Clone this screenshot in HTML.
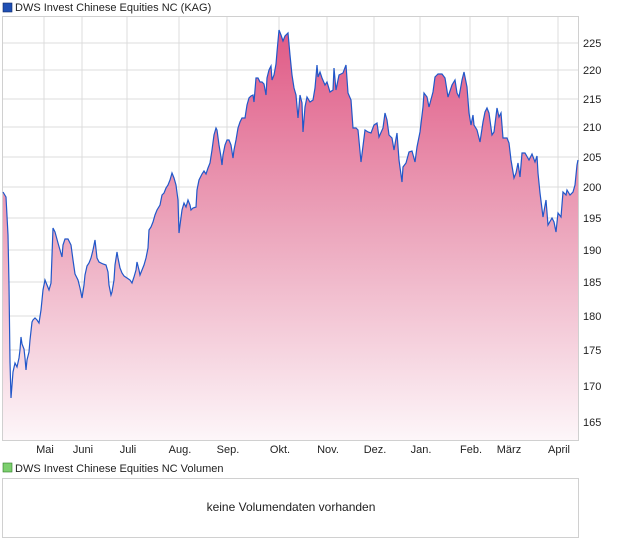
<!DOCTYPE html>
<html><head><meta charset="utf-8"><style>
body{margin:0;background:#fff;width:620px;height:546px;overflow:hidden;font-family:"Liberation Sans",sans-serif}
svg{position:absolute;left:0;top:0}
</style></head><body>
<svg width="620" height="546" viewBox="0 0 620 546" font-family="Liberation Sans, sans-serif">
<defs><linearGradient id="g" gradientUnits="userSpaceOnUse" x1="0" y1="30" x2="0" y2="440">
<stop offset="0" stop-color="#e05a86"/><stop offset="0.45" stop-color="#eba0b8"/><stop offset="1" stop-color="#fdf6f9"/></linearGradient>
<path id="p" d="M3,192 L6,197 8,235 9,285 10,362 11,398 13,372 15,363 17,367 19,358 20,350 21,337 22,344 24,349 25,358 26,370 27,360 29,352 30,340 32,322 33,320 35,318 37,320 39,323 41,310 43,290 45,280 47,285 49,290 51,283 53,228 55,232 58,243 60,250 62,257 63,245 65,239 68,239 71,245 73,260 75,274 78,280 80,288 82,298 84,285 85,275 87,266 89,263 91,258 93,250 95,240 97,258 99,262 103,264 106,265 108,272 109,285 111,295 112,292 114,280 115,265 117,252 118,258 120,268 122,273 124,276 127,278 130,280 132,283 134,277 136,270 137,262 139,270 140,275 142,270 144,265 146,258 148,248 149,230 151,227 153,222 155,215 157,210 160,205 162,195 164,193 166,188 168,185 170,180 172,173 174,178 176,185 178,200 179,233 180,225 182,210 184,203 186,207 188,200 190,205 191,210 193,208 196,207 197,190 199,180 202,174 204,171 206,174 208,168 210,163 212,150 214,135 216,128 217,130 219,145 221,157 222,165 223,155 225,145 227,140 229,140 231,145 233,158 234,150 236,140 238,128 240,122 242,118 245,118 247,105 249,98 251,96 253,95 254,102 255,90 256,78 258,78 260,82 262,82 264,84 266,95 267,78 269,70 271,66 272,80 274,75 276,64 277,52 279,30 281,35 283,41 285,36 288,33 290,55 292,75 294,88 296,95 298,118 300,95 302,103 303,132 305,107 307,97 310,102 313,100 315,88 317,65 318,77 320,72 322,78 325,85 327,82 330,92 333,90 334,68 336,90 339,75 343,73 346,65 348,93 351,100 353,128 356,128 358,130 361,162 365,130 368,132 371,133 374,125 377,123 379,137 383,128 385,113 387,120 389,135 392,138 394,150 397,133 399,160 402,182 403,167 406,163 409,152 412,151 415,162 417,147 420,132 423,107 424,93 427,97 429,107 433,92 435,77 438,74 442,74 445,78 448,97 452,85 455,80 457,93 459,97 462,80 464,72 467,87 469,113 471,125 473,115 474,125 477,130 480,142 483,122 485,112 487,108 489,113 492,135 494,132 497,108 499,117 501,113 503,138 507,138 509,143 511,160 514,178 516,173 518,163 520,177 522,153 525,153 529,160 532,154 535,162 537,156 538,173 540,193 543,217 546,200 548,225 552,218 554,222 556,232 558,213 561,217 563,192 566,195 567,190 570,195 573,192 575,185 577,165 578,160"/>
</defs>
<rect x="3" y="3" width="9" height="9" fill="#1f4fb4" stroke="#112a66" stroke-width="0.6"/>
<text x="15" y="11" font-size="11" fill="#222">DWS Invest Chinese Equities NC (KAG)</text>
<g stroke="#dcdcdc" stroke-width="1">
<line x1="2" y1="43" x2="578" y2="43"/><line x1="2" y1="70" x2="578" y2="70"/><line x1="2" y1="99" x2="578" y2="99"/><line x1="2" y1="127" x2="578" y2="127"/><line x1="2" y1="157" x2="578" y2="157"/><line x1="2" y1="187" x2="578" y2="187"/><line x1="2" y1="218" x2="578" y2="218"/><line x1="2" y1="250" x2="578" y2="250"/><line x1="2" y1="282" x2="578" y2="282"/><line x1="2" y1="316" x2="578" y2="316"/><line x1="2" y1="350" x2="578" y2="350"/><line x1="2" y1="386" x2="578" y2="386"/><line x1="2" y1="422" x2="578" y2="422"/>
<line x1="44" y1="16" x2="44" y2="440"/><line x1="82" y1="16" x2="82" y2="440"/><line x1="127" y1="16" x2="127" y2="440"/><line x1="179" y1="16" x2="179" y2="440"/><line x1="227" y1="16" x2="227" y2="440"/><line x1="279" y1="16" x2="279" y2="440"/><line x1="327" y1="16" x2="327" y2="440"/><line x1="374" y1="16" x2="374" y2="440"/><line x1="420" y1="16" x2="420" y2="440"/><line x1="470" y1="16" x2="470" y2="440"/><line x1="508" y1="16" x2="508" y2="440"/><line x1="558" y1="16" x2="558" y2="440"/>
</g>
<path d="M3,192 L6,197 8,235 9,285 10,362 11,398 13,372 15,363 17,367 19,358 20,350 21,337 22,344 24,349 25,358 26,370 27,360 29,352 30,340 32,322 33,320 35,318 37,320 39,323 41,310 43,290 45,280 47,285 49,290 51,283 53,228 55,232 58,243 60,250 62,257 63,245 65,239 68,239 71,245 73,260 75,274 78,280 80,288 82,298 84,285 85,275 87,266 89,263 91,258 93,250 95,240 97,258 99,262 103,264 106,265 108,272 109,285 111,295 112,292 114,280 115,265 117,252 118,258 120,268 122,273 124,276 127,278 130,280 132,283 134,277 136,270 137,262 139,270 140,275 142,270 144,265 146,258 148,248 149,230 151,227 153,222 155,215 157,210 160,205 162,195 164,193 166,188 168,185 170,180 172,173 174,178 176,185 178,200 179,233 180,225 182,210 184,203 186,207 188,200 190,205 191,210 193,208 196,207 197,190 199,180 202,174 204,171 206,174 208,168 210,163 212,150 214,135 216,128 217,130 219,145 221,157 222,165 223,155 225,145 227,140 229,140 231,145 233,158 234,150 236,140 238,128 240,122 242,118 245,118 247,105 249,98 251,96 253,95 254,102 255,90 256,78 258,78 260,82 262,82 264,84 266,95 267,78 269,70 271,66 272,80 274,75 276,64 277,52 279,30 281,35 283,41 285,36 288,33 290,55 292,75 294,88 296,95 298,118 300,95 302,103 303,132 305,107 307,97 310,102 313,100 315,88 317,65 318,77 320,72 322,78 325,85 327,82 330,92 333,90 334,68 336,90 339,75 343,73 346,65 348,93 351,100 353,128 356,128 358,130 361,162 365,130 368,132 371,133 374,125 377,123 379,137 383,128 385,113 387,120 389,135 392,138 394,150 397,133 399,160 402,182 403,167 406,163 409,152 412,151 415,162 417,147 420,132 423,107 424,93 427,97 429,107 433,92 435,77 438,74 442,74 445,78 448,97 452,85 455,80 457,93 459,97 462,80 464,72 467,87 469,113 471,125 473,115 474,125 477,130 480,142 483,122 485,112 487,108 489,113 492,135 494,132 497,108 499,117 501,113 503,138 507,138 509,143 511,160 514,178 516,173 518,163 520,177 522,153 525,153 529,160 532,154 535,162 537,156 538,173 540,193 543,217 546,200 548,225 552,218 554,222 556,232 558,213 561,217 563,192 566,195 567,190 570,195 573,192 575,185 577,165 578,160 L578,440 L3,440 Z" fill="url(#g)"/>
<rect x="2.5" y="16.5" width="576" height="424" fill="none" stroke="#d0d0d0"/>
<use href="#p" fill="none" stroke="#2157c9" stroke-width="1.2"/>
<g font-size="11" fill="#222">
<text x="583" y="47">225</text><text x="583" y="74">220</text><text x="583" y="103">215</text><text x="583" y="131">210</text><text x="583" y="161">205</text><text x="583" y="191">200</text><text x="583" y="222">195</text><text x="583" y="254">190</text><text x="583" y="286">185</text><text x="583" y="320">180</text><text x="583" y="354">175</text><text x="583" y="390">170</text><text x="583" y="426">165</text>
</g>
<g font-size="11" fill="#222" text-anchor="middle">
<text x="45" y="453">Mai</text><text x="83" y="453">Juni</text><text x="128" y="453">Juli</text><text x="180" y="453">Aug.</text><text x="228" y="453">Sep.</text><text x="280" y="453">Okt.</text><text x="328" y="453">Nov.</text><text x="375" y="453">Dez.</text><text x="421" y="453">Jan.</text><text x="471" y="453">Feb.</text><text x="509" y="453">März</text><text x="559" y="453">April</text>
</g>
<rect x="3" y="463" width="9" height="9" fill="#7ccf6e" stroke="#2f7a26" stroke-width="0.6"/>
<text x="15" y="472" font-size="11" fill="#222">DWS Invest Chinese Equities NC Volumen</text>
<rect x="2.5" y="478.5" width="576" height="59" fill="none" stroke="#d0d0d0"/>
<text x="291" y="511" font-size="12" fill="#222" text-anchor="middle">keine Volumendaten vorhanden</text>
</svg>
</body></html>
